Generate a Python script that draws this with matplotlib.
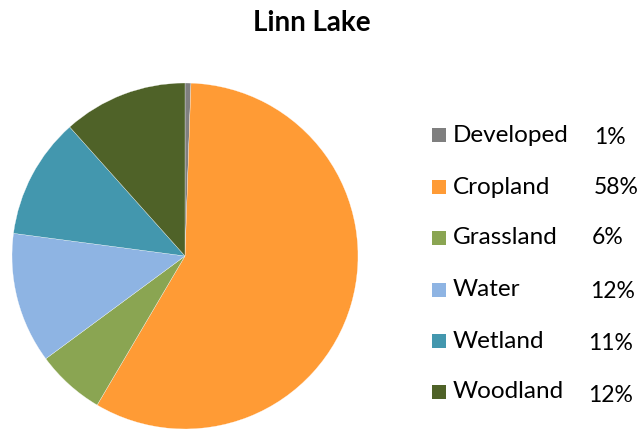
import matplotlib
matplotlib.use("Agg")
import matplotlib.pyplot as plt
from matplotlib.patches import Rectangle

categories = ["Developed", "Cropland", "Grassland", "Water", "Wetland", "Woodland"]
values = [0.55, 57.9, 6.4, 12.2, 11.3, 11.6]
colors = ["#7F7F7F", "#FF9B35", "#8AA552", "#8EB4E3", "#4397AE", "#4F6228"]
title = "Linn Lake"

plt.rcParams['font.family'] = ['Lato', 'DejaVu Sans']

W, H = 641, 429
fig = plt.figure(figsize=(W / 100, H / 100), dpi=100)

# pie axes: center (185,256) px, radius 173 px
cx, cy, r = 185, 256, 173
ax = fig.add_axes([(cx - r) / W, (H - cy - r) / H, 2 * r / W, 2 * r / H])
ax.pie(values, colors=colors, startangle=90, counterclock=False,
       radius=1, wedgeprops=dict(linewidth=0.2, edgecolor="white"))
ax.set_xlim(-1, 1)
ax.set_ylim(-1, 1)
ax.axis("off")

fig.text(312 / W, 1 - 23 / H, title, ha="center", va="center",
         fontsize=20, fontweight="bold")

row_y = [135, 187, 238, 290, 341, 392]
pct_x = [610, 616, 608, 613, 611, 611]
pct_y = [137, 187, 238, 292, 343, 396]
for i, (cat, val, col) in enumerate(zip(categories, values, colors)):
    y = row_y[i]
    fig.patches.append(Rectangle((432 / W, 1 - (y + 7) / H), 14 / W, 14 / H,
                                 transform=fig.transFigure, facecolor=col,
                                 edgecolor="none"))
    fig.text(453 / W, 1 - y / H, cat, ha="left", va="center", fontsize=17.5)
    fig.text(pct_x[i] / W, 1 - pct_y[i] / H, f"{round(val):.0f}%",
             ha="center", va="center", fontsize=16.5)

fig.savefig("out.png", dpi=100)
